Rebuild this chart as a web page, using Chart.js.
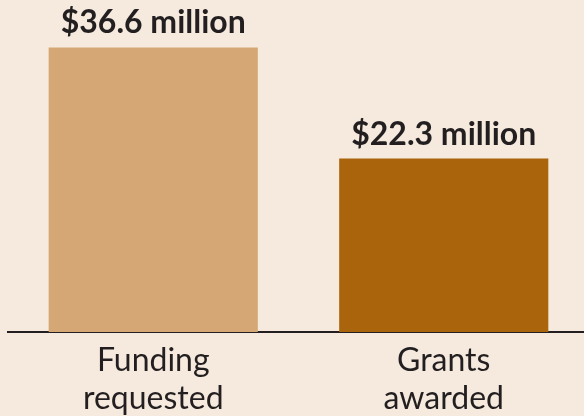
<!DOCTYPE html>
<html lang="en">
<head>
    <meta charset="UTF-8">
    <title>Funding requested vs grants awarded</title>
    <script src="https://cdn.jsdelivr.net/npm/chart.js"></script>
    <style>
        html, body {
            margin: 0;
            padding: 0;
            background-color: #f5eadd;
            overflow: hidden;
        }
        #wrap {
            width: 589px;
            height: 416px;
        }
    </style>
</head>
<body>
    <div id="wrap">
        <canvas id="fundingChart" width="589" height="416"></canvas>
    </div>

    <script>
        // Data (millions of dollars)
        const categories = [['Funding', 'requested'], ['Grants', 'awarded']];
        const amounts = [36.6, 22.3];
        const barColors = ['#d5a774', '#aa640c'];

        const textColor = '#231f20';

        // Writes "$xx.x million" above each bar
        const valueLabels = {
            id: 'valueLabels',
            afterDatasetsDraw(chart) {
                const ctx = chart.ctx;
                const meta = chart.getDatasetMeta(0);
                ctx.save();
                ctx.font = 'bold 32px Lato';
                ctx.fillStyle = textColor;
                ctx.textAlign = 'center';
                ctx.textBaseline = 'alphabetic';
                meta.data.forEach((bar, i) => {
                    const v = chart.data.datasets[0].data[i];
                    ctx.fillText('$' + v.toFixed(1) + ' million', bar.x, bar.y - 14);
                });
                ctx.restore();
            }
        };

        const chart = new Chart(document.getElementById('fundingChart'), {
            type: 'bar',
            data: {
                labels: categories,
                datasets: [{
                    data: amounts,
                    backgroundColor: barColors,
                    borderWidth: 0,
                    barPercentage: 0.72,
                    categoryPercentage: 1
                }]
            },
            options: {
                responsive: false,
                animation: false,
                layout: {
                    padding: { top: 21, left: 8, right: 0, bottom: 0 }
                },
                plugins: {
                    legend: { display: false },
                    tooltip: { enabled: false }
                },
                scales: {
                    x: {
                        grid: { display: false },
                        border: { display: true, color: textColor, width: 2 },
                        ticks: {
                            color: textColor,
                            padding: 1,
                            font: { family: 'Lato', size: 32, lineHeight: 1.2 }
                        },
                        afterFit(scale) {
                            scale.height = 84;
                        }
                    },
                    y: {
                        display: false,
                        min: 0,
                        max: 40
                    }
                }
            },
            plugins: [valueLabels]
        });
    </script>
</body>
</html>
